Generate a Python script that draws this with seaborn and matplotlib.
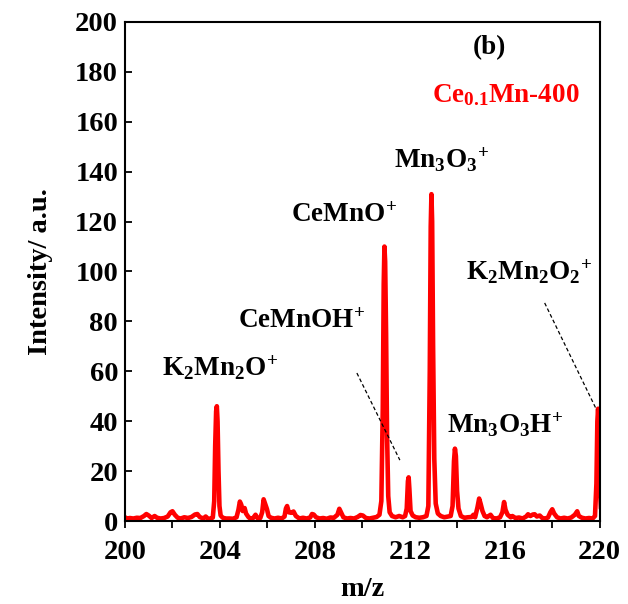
import matplotlib
matplotlib.use("Agg")
import matplotlib.pyplot as plt
import seaborn as sns
from matplotlib.ticker import MultipleLocator

# spectrum
mz = [200.00, 200.10, 200.20, 200.35, 200.50, 200.65, 200.80, 200.90, 201.00, 201.12,
      201.25, 201.35, 201.50, 201.65, 201.80, 201.92, 202.00, 202.10, 202.22, 202.35,
      202.50, 202.65, 202.80, 202.95, 203.05, 203.15, 203.30, 203.40, 203.50, 203.62,
      203.70, 203.76, 203.80, 203.84, 203.87, 203.90, 203.94, 203.98, 204.03, 204.12,
      204.25, 204.40, 204.55, 204.70, 204.78, 204.84, 204.90, 204.96, 205.04, 205.10,
      205.20, 205.30, 205.40, 205.50, 205.58, 205.70, 205.78, 205.84, 205.90, 205.98,
      206.05, 206.15, 206.30, 206.45, 206.60, 206.72, 206.78, 206.83, 206.90, 207.00,
      207.10, 207.20, 207.35, 207.50, 207.65, 207.80, 207.88, 207.95, 208.05, 208.20,
      208.35, 208.50, 208.65, 208.80, 208.95, 209.03, 209.10, 209.20, 209.35, 209.50,
      209.65, 209.80, 209.92, 210.02, 210.15, 210.30, 210.45, 210.60, 210.72, 210.80,
      210.86, 210.90, 210.93, 210.96, 211.00, 211.04, 211.09, 211.15, 211.25, 211.40,
      211.55, 211.70, 211.80, 211.87, 211.92, 211.95, 211.98, 212.03, 212.12, 212.25,
      212.40, 212.55, 212.70, 212.78, 212.84, 212.88, 212.91, 212.94, 212.98, 213.03,
      213.09, 213.18, 213.30, 213.45, 213.60, 213.72, 213.80, 213.86, 213.90, 213.94,
      213.99, 214.05, 214.15, 214.30, 214.45, 214.60, 214.68, 214.75, 214.85, 214.92,
      214.98, 215.06, 215.15, 215.25, 215.40, 215.50, 215.65, 215.80, 215.90, 215.97,
      216.03, 216.12, 216.25, 216.32, 216.45, 216.60, 216.75, 216.90, 216.98, 217.08,
      217.18, 217.26, 217.35, 217.47, 217.58, 217.70, 217.82, 217.92, 218.00, 218.08,
      218.20, 218.35, 218.50, 218.65, 218.80, 218.95, 219.05, 219.12, 219.25, 219.40,
      219.55, 219.70, 219.80, 219.86, 219.90, 219.93, 219.96, 220.00, 220.05]
intensity = [1.5, 0.9, 1.2, 1.0, 1.3, 1.2, 2.0, 2.8, 2.2, 1.2,
             2.0, 1.3, 1.0, 1.2, 1.8, 3.5, 3.9, 2.5, 1.3, 1.0,
             1.5, 1.2, 1.6, 2.6, 2.8, 1.6, 1.0, 1.8, 0.9, 1.0,
             1.4, 8, 30, 44, 46, 40, 20, 6, 2.2, 1.3,
             1.0, 1.0, 0.9, 1.5, 4.5, 7.8, 6.5, 4.0, 5.2, 3.0,
             1.6, 0.8, 1.2, 2.5, 1.2, 1.2, 3.5, 8.7, 7.0, 4.8,
             2.0, 1.3, 1.0, 1.3, 1.0, 1.8, 5.0, 6.0, 3.5, 3.3,
             3.8, 2.0, 1.0, 1.3, 1.0, 1.4, 2.8, 2.6, 1.5, 1.0,
             1.2, 0.9, 1.4, 1.3, 2.5, 4.9, 3.5, 1.5, 1.0, 1.2,
             1.0, 1.6, 2.4, 2.2, 1.2, 1.0, 1.3, 1.6, 2.5, 8,
             45, 95, 110, 104, 75, 35, 10, 3.5, 2.0, 1.5,
             2.0, 1.5, 2.0, 5, 16, 17.5, 13, 4, 2.2, 1.5,
             1.3, 1.5, 2.0, 6, 60, 118, 131, 120, 70, 25,
             7, 3.0, 2.0, 1.5, 1.8, 2.0, 6, 24, 29, 26,
             12, 5, 2.0, 1.3, 1.5, 1.6, 2.5, 1.5, 5.5, 9.0,
             7.0, 4.0, 2.0, 1.5, 2.5, 1.2, 1.0, 1.5, 3.5, 7.6,
             4.5, 2.5, 1.5, 2.0, 1.2, 1.4, 1.0, 1.8, 2.7, 2.0,
             2.6, 2.7, 1.8, 2.2, 1.2, 1.0, 1.4, 3.5, 4.7, 3.0,
             1.5, 1.0, 1.3, 1.0, 1.4, 2.5, 3.9, 2.0, 1.3, 1.0,
             1.2, 1.0, 2.0, 15, 40, 45, 38, 15, 5]

# peak labels: text, x, y
labels = [r"$K_2Mn_2O^{\!+}$", r"$CeMnOH^{\!+}$", r"$CeMnO^{\!+}$", r"$Mn_3O_3{}^{\!+}$",
          r"$Mn_3O_3H^{\!+}$", r"$K_2Mn_2O_2{}^{\!+}$"]
label_x = [204.0, 207.45, 209.22, 213.35, 216.0, 217.05]
label_y = [61.3, 79.8, 122.6, 144.7, 38.5, 99.8]

sns.set_style("ticks")
plt.rcParams["font.family"] = ["Liberation Serif", "DejaVu Serif"]
plt.rcParams["font.weight"] = "bold"
plt.rcParams["mathtext.fontset"] = "custom"
plt.rcParams["mathtext.rm"] = "Liberation Serif:bold"
plt.rcParams["mathtext.bf"] = "Liberation Serif:bold"
plt.rcParams["mathtext.it"] = "Liberation Serif:bold"
plt.rcParams["mathtext.default"] = "bf"
for k in ["text.color", "axes.labelcolor", "xtick.color", "ytick.color"]:
    plt.rcParams[k] = "black"

fig = plt.figure(figsize=(6.28, 6.04), dpi=100)
ax = fig.add_axes([0.199, 0.1374, 0.756, 0.8262])

sns.lineplot(x=mz, y=intensity, ax=ax, color="#ff0000", linewidth=3.3, sort=False)

ax.set_xlim(200, 220)
ax.set_ylim(0, 200)
ax.xaxis.set_major_locator(MultipleLocator(4))
ax.xaxis.set_minor_locator(MultipleLocator(2))
ax.yaxis.set_major_locator(MultipleLocator(20))
ax.tick_params(axis="x", which="both", direction="out", length=5, width=1.3,
               labelsize=20.5, pad=9)
ax.tick_params(axis="y", which="both", direction="in", length=5, width=1.3,
               labelsize=20.5, pad=5)
for lab in ax.get_xticklabels() + ax.get_yticklabels():
    lab.set_fontweight("bold")
for sp in ax.spines.values():
    sp.set_linewidth(1.5)
    sp.set_color("black")

ax.set_xlabel("m/z", fontsize=20.5, fontweight="bold", labelpad=8)
ax.set_ylabel("Intensity/ a.u.", fontsize=20.5, fontweight="bold", labelpad=16)

for t, x, y in zip(labels, label_x, label_y):
    ax.text(x, y, t, fontsize=19.5, ha="center", va="center")

ax.text(215.37, 189.6, "(b)", fontsize=19.5, fontweight="bold", ha="center", va="center")
ax.text(216.04, 170.7, r"$Ce_{0.1}$Mn-400", fontsize=19.5, fontweight="bold",
        color="#ff0000", ha="center", va="center")

ax.plot([209.77, 211.58], [59.3, 24.4], ls=(0, (3, 2)), color="black", lw=0.9)
ax.plot([217.68, 219.87], [87.4, 44.5], ls=(0, (3, 2)), color="black", lw=0.9)

fig.savefig("out.png", dpi=100)
